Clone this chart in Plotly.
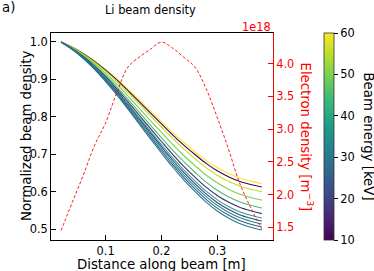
import plotly.graph_objects as go
from plotly.colors import sample_colorscale

# ---------------- data ----------------
distance = [0.02, 0.04, 0.06, 0.08, 0.10, 0.12, 0.14, 0.16, 0.18, 0.20,
            0.22, 0.24, 0.26, 0.28, 0.30, 0.32, 0.34, 0.36, 0.38]

electron_density = [1.45e18, 1.88e18, 2.30e18, 2.75e18, 3.10e18, 3.56e18, 3.95e18,
                    4.10e18, 4.22e18, 4.33e18, 4.24e18, 4.10e18, 3.95e18, 3.62e18,
                    3.18e18, 2.70e18, 2.18e18, 1.80e18, 1.47e18]

beam_energies = [60, 10, 55, 50, 45, 15, 40, 20, 35, 25, 30]

beam_density = {
    60: [1.000, 0.9863, 0.9696, 0.9496, 0.9268, 0.9017, 0.8739, 0.8453, 0.8161, 0.7872,
         0.7586, 0.7317, 0.7071, 0.6840, 0.6648, 0.6491, 0.6369, 0.6286, 0.622],
    10: [1.000, 0.9859, 0.9687, 0.9481, 0.9247, 0.8988, 0.8702, 0.8410, 0.8110, 0.7814,
         0.7522, 0.7247, 0.6996, 0.6760, 0.6564, 0.6406, 0.6282, 0.6197, 0.613],
    55: [1.000, 0.9853, 0.9673, 0.9458, 0.9215, 0.8946, 0.8649, 0.8346, 0.8036, 0.7731,
         0.7428, 0.7145, 0.6887, 0.6646, 0.6445, 0.6283, 0.6155, 0.6068, 0.600],
    50: [1.000, 0.9842, 0.9650, 0.9420, 0.9160, 0.8874, 0.8558, 0.8236, 0.7909, 0.7586,
         0.7268, 0.6971, 0.6702, 0.6449, 0.6241, 0.6072, 0.5941, 0.5850, 0.578],
    45: [1.000, 0.9832, 0.9627, 0.9382, 0.9106, 0.8802, 0.8469, 0.8129, 0.7784, 0.7446,
         0.7113, 0.6804, 0.6523, 0.6261, 0.6045, 0.5871, 0.5736, 0.5642, 0.557],
    15: [1.000, 0.9824, 0.9610, 0.9354, 0.9067, 0.8750, 0.8403, 0.8051, 0.7694, 0.7344,
         0.7001, 0.6683, 0.6394, 0.6126, 0.5905, 0.5727, 0.5589, 0.5494, 0.542],
    40: [1.000, 0.9818, 0.9596, 0.9331, 0.9034, 0.8708, 0.8350, 0.7987, 0.7621, 0.7261,
         0.6911, 0.6585, 0.6291, 0.6018, 0.5793, 0.5611, 0.5471, 0.5375, 0.530],
    20: [1.000, 0.9813, 0.9586, 0.9316, 0.9012, 0.8679, 0.8314, 0.7944, 0.7572, 0.7206,
         0.6850, 0.6519, 0.6221, 0.5945, 0.5717, 0.5534, 0.5392, 0.5295, 0.522],
    35: [1.000, 0.9809, 0.9577, 0.9300, 0.8990, 0.8649, 0.8278, 0.7901, 0.7522, 0.7151,
         0.6789, 0.6454, 0.6152, 0.5872, 0.5642, 0.5457, 0.5314, 0.5216, 0.514],
    25: [1.000, 0.9804, 0.9567, 0.9284, 0.8967, 0.8620, 0.8241, 0.7858, 0.7471, 0.7094,
         0.6727, 0.6388, 0.6082, 0.5799, 0.5567, 0.5380, 0.5236, 0.5137, 0.506],
    30: [1.000, 0.9800, 0.9557, 0.9268, 0.8944, 0.8590, 0.8204, 0.7813, 0.7420, 0.7037,
         0.6664, 0.6320, 0.6011, 0.5725, 0.5490, 0.5302, 0.5157, 0.5057, 0.498],
}

x_ticks = [0.1, 0.2, 0.3]
y_ticks = [0.5, 0.6, 0.7, 0.8, 0.9, 1.0]
y2_ticks = [1.5e18, 2.0e18, 2.5e18, 3.0e18, 3.5e18, 4.0e18]
y2_ticklabels = ["1.5", "2.0", "2.5", "3.0", "3.5", "4.0"]
cbar_ticks = [10, 20, 30, 40, 50, 60]
e_min, e_max = 10, 60

# ---------------- figure ----------------
FONT = "DejaVu Sans"
FS = 11.4      # tick labels
FL = 13.3      # axis labels
W, H = 374, 271
L, R, T, B = 51, 101, 33, 31
PW, PH = W - L - R, H - T - B


def px(x):
    return (x - L) / PW


def py(y):
    return (H - B - y) / PH


fig = go.Figure()

for e in beam_energies:
    col = sample_colorscale("Viridis", [(e - e_min) / (e_max - e_min)])[0]
    fig.add_trace(go.Scatter(x=distance, y=beam_density[e], mode="lines",
                             line=dict(color=col, width=1.1, shape="spline"),
                             showlegend=False, hoverinfo="skip"))

# colorbar carrier (invisible)
fig.add_trace(go.Scatter(
    x=[distance[0], distance[0]], y=[1.0, 1.0], mode="markers",
    marker=dict(size=1, opacity=0, color=[e_min, e_max], colorscale="Viridis",
                cmin=e_min, cmax=e_max, showscale=True,
                colorbar=dict(x=px(324), xanchor="left", xpad=0, y=0.5, yanchor="middle",
                              ypad=0, len=1.0, lenmode="fraction", thickness=10,
                              outlinewidth=0.8, outlinecolor="#333",
                              tickvals=cbar_ticks, ticks="outside", ticklen=4,
                              tickwidth=0.8, tickcolor="black",
                              tickfont=dict(family=FONT, size=FS, color="black"))),
    showlegend=False, hoverinfo="skip"))

fig.add_trace(go.Scatter(x=distance, y=electron_density, mode="lines", yaxis="y2",
                         line=dict(color="red", width=0.9, dash="3px,2px", shape="spline"),
                         showlegend=False, hoverinfo="skip"))

fig.update_layout(
    width=W, height=H,
    margin=dict(l=L, r=R, t=T, b=B, pad=0),
    paper_bgcolor="white", plot_bgcolor="white",
    font=dict(family=FONT, size=FS, color="black"),
    xaxis=dict(range=[0.002, 0.400], tickvals=x_ticks, ticktext=["0.1", "0.2", "0.3"],
               ticks="inside", ticklen=5, tickwidth=0.8, tickcolor="black",
               showline=True, linecolor="black", linewidth=0.8, mirror=True,
               showgrid=False, zeroline=False),
    yaxis=dict(range=[0.4715, 1.024], tickvals=y_ticks, ticktext=["0.5", "0.6", "0.7", "0.8", "0.9", "1.0"],
               ticks="inside", ticklen=5, tickwidth=0.8, tickcolor="black",
               showline=True, linecolor="black", linewidth=0.8,
               showgrid=False, zeroline=False),
    yaxis2=dict(range=[1.306e18, 4.47e18], overlaying="y", side="right",
                tickvals=y2_ticks, ticktext=y2_ticklabels,
                ticks="inside", ticklen=5, tickwidth=0.8, tickcolor="red",
                tickfont=dict(color="red"),
                showline=True, linecolor="red", linewidth=0.8,
                showgrid=False, zeroline=False),
    hovermode=False,
)

ann = [
    dict(text="a)", x=px(0), y=py(8), xanchor="left", yanchor="middle",
         font=dict(family=FONT, size=FL, color="black")),
    dict(text="Li beam density", x=px(150), y=py(10), xanchor="center", yanchor="middle",
         font=dict(family=FONT, size=11.4, color="black")),
    dict(text="Normalized beam density", x=px(26.5), y=0.5, textangle=-90,
         xanchor="center", yanchor="middle"),
    dict(text="Distance along beam [m]", x=px(161.7), y=py(264), xanchor="center", yanchor="middle"),
    dict(text="Electron density [m<sup>\u22123</sup>]", x=px(307), y=0.5, textangle=90,
         xanchor="center", yanchor="middle", font=dict(color="red", family=FONT, size=FL)),
    dict(text="1e18", x=px(273), y=py(26.7), xanchor="right", yanchor="middle",
         font=dict(color="red", family=FONT, size=FS)),
    dict(text="Beam energy [keV]", x=px(368), y=0.5, textangle=90,
         xanchor="center", yanchor="middle"),
]
for a in ann:
    a.update(xref="paper", yref="paper", showarrow=False)
    a.setdefault("font", dict(family=FONT, size=FL, color="black"))
    fig.add_annotation(**a)

fig.write_html("out.html", config={"displayModeBar": False},
               post_script="document.body.style.margin='0';document.body.style.padding='0';")
